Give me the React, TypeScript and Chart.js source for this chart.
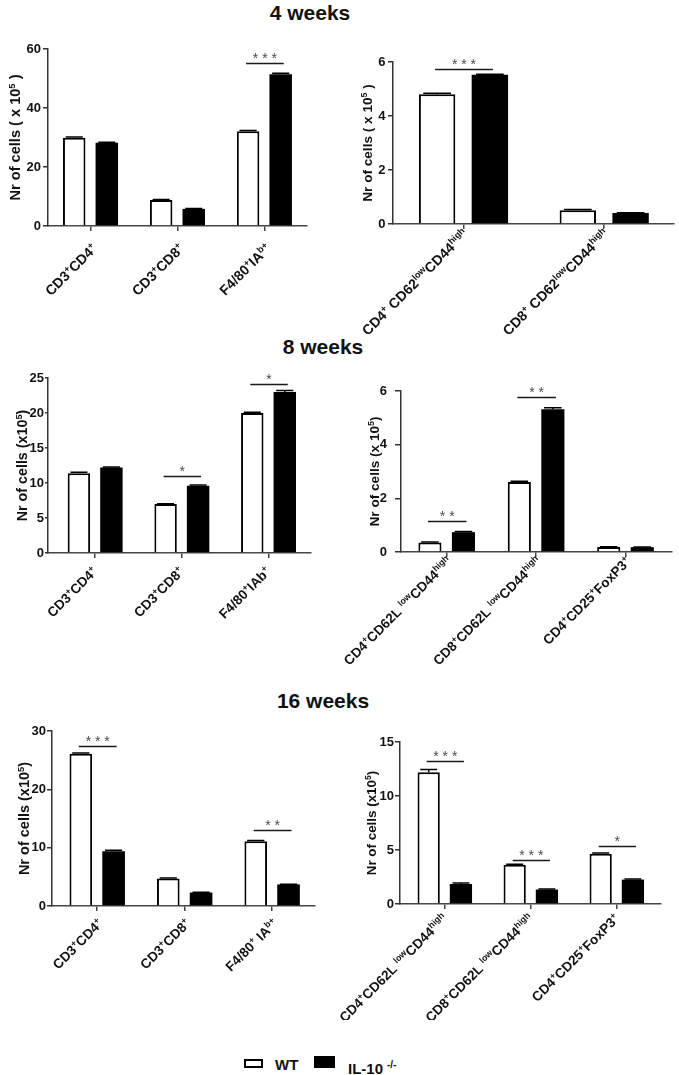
import React, { useEffect, useRef } from "react";
import { Chart, registerables } from "chart.js";
Chart.register(...registerables);

const FONT = '"Liberation Sans", Arial, Helvetica, sans-serif';
Chart.defaults.font.family = FONT;

// ---------- 4 weeks (left) ----------
const cats4A = ["CD3^{+}CD4^{+}", "CD3^{+}CD8^{+}", "F4/80^{+}IA^{b+}"];
const wt4A = [29.9, 8.8, 32.1];
const ko4A = [28.2, 5.8, 51.4];
const wtErr4A = [0.3, 0.2, 0.3];
const koErr4A = [0.2, 0.1, 0.4];
const sigCat4A = [2];
const sigVal4A = [55.3];
const sigTxt4A = ["***"];
const yTicks4A = [0, 20, 40, 60];

// ---------- 4 weeks (right) ----------
const cats4B = ["CD4^{+} CD62^{low}CD44^{high}", "CD8^{+} CD62^{low}CD44^{high}"];
const wt4B = [4.81, 0.51];
const ko4B = [5.53, 0.41];
const wtErr4B = [0.03, 0.03];
const koErr4B = [0.02, 0.01];
const sigCat4B = [0];
const sigVal4B = [5.75];
const sigTxt4B = ["***"];
const yTicks4B = [0, 2, 4, 6];

// ---------- 8 weeks (left) ----------
const cats8A = ["CD3^{+}CD4^{+}", "CD3^{+}CD8^{+}", "F4/80^{+}IAb^{+}"];
const wt8A = [11.4, 7.0, 20.0];
const ko8A = [12.2, 9.6, 23.0];
const wtErr8A = [0.15, 0.05, 0.1];
const koErr8A = [0.1, 0.1, 0.2];
const sigCat8A = [1, 2];
const sigVal8A = [11.05, 24.2];
const sigTxt8A = ["*", "*"];
const yTicks8A = [0, 5, 10, 15, 20, 25];

// ---------- 8 weeks (right) ----------
const cats8B = ["CD4^{+}CD62L ^{low}CD44^{high}", "CD8^{+}CD62L ^{low}CD44^{high}", "CD4^{+}CD25^{+}FoxP3^{+}"];
const wt8B = [0.35, 2.61, 0.19];
const ko8B = [0.74, 5.32, 0.18];
const wtErr8B = [0.02, 0.03, 0.01];
const koErr8B = [0.02, 0.06, 0.01];
const sigCat8B = [0, 1];
const sigVal8B = [1.15, 5.77];
const sigTxt8B = ["**", "**"];
const yTicks8B = [0, 2, 4, 6];

// ---------- 16 weeks (left) ----------
const cats16A = ["CD3^{+}CD4^{+}", "CD3^{+}CD8^{+}", "F4/80^{+} IA^{b+}"];
const wt16A = [26.1, 4.7, 11.1];
const ko16A = [9.4, 2.3, 3.7];
const wtErr16A = [0.15, 0.1, 0.15];
const koErr16A = [0.15, 0.05, 0.05];
const sigCat16A = [0, 2];
const sigVal16A = [27.4, 13.0];
const sigTxt16A = ["***", "**"];
const yTicks16A = [0, 10, 20, 30];

// ---------- 16 weeks (right) ----------
const cats16B = ["CD4^{+}CD62L ^{low}CD44^{high}", "CD8^{+}CD62L ^{low}CD44^{high}", "CD4^{+}CD25^{+}FoxP3^{+}"];
const wt16B = [12.2, 3.63, 4.65];
const ko16B = [1.85, 1.34, 2.26];
const wtErr16B = [0.25, 0.05, 0.08];
const koErr16B = [0.1, 0.05, 0.05];
const sigCat16B = [0, 1, 2];
const sigVal16B = [13.2, 4.1, 5.35];
const sigTxt16B = ["***", "***", "*"];
const yTicks16B = [0, 5, 10, 15];

const titles = ["4 weeks", "8 weeks", "16 weeks"];
const legendLabels = ["WT", "IL-10^{-/-}"];

type Panel = {
  cats: string[]; wt: number[]; ko: number[]; wtErr: number[]; koErr: number[];
  sigCat: number[]; sigVal: number[]; sigTxt: string[]; yTicks: number[];
  yTitle: string;
  box: { left: number; top: number; width: number; height: number };
  area: { L: number; T: number; R: number; B: number };
  xMin: number; xMax: number;
  tickFont: number; tickLen: number; tickPad: number;
  labelFont: number; titleFont: number; titleX: number;
  lblDx: number; lblDy: number;
};

const panels: Panel[] = [
  {
    cats: cats4A, wt: wt4A, ko: ko4A, wtErr: wtErr4A, koErr: koErr4A, sigCat: sigCat4A, sigVal: sigVal4A, sigTxt: sigTxt4A, yTicks: yTicks4A,
    yTitle: "Nr of cells ( x 10^{5} )",
    box: { left: 0, top: 30, width: 340, height: 300 }, area: { L: 48, T: 49, R: 307, B: 226 },
    xMin: -0.489, xMax: 2.49, tickFont: 13, tickLen: 5, tickPad: 2,
    labelFont: 14, titleFont: 14.6, titleX: 15, lblDx: 7.5, lblDy: 23.5,
  },
  {
    cats: cats4B, wt: wt4B, ko: ko4B, wtErr: wtErr4B, koErr: koErr4B, sigCat: sigCat4B, sigVal: sigVal4B, sigTxt: sigTxt4B, yTicks: yTicks4B,
    yTitle: "Nr of cells ( x 10^{5} )",
    box: { left: 300, top: 30, width: 379, height: 322 }, area: { L: 393, T: 62, R: 674, B: 224 },
    xMin: -0.501, xMax: 1.496, tickFont: 13, tickLen: 5, tickPad: 2.5,
    labelFont: 14, titleFont: 13.6, titleX: 367, lblDx: 5.5, lblDy: 11,
  },
  {
    cats: cats8A, wt: wt8A, ko: ko8A, wtErr: wtErr8A, koErr: koErr8A, sigCat: sigCat8A, sigVal: sigVal8A, sigTxt: sigTxt8A, yTicks: yTicks8A,
    yTitle: "Nr of cells (x10^{5})",
    box: { left: 0, top: 360, width: 340, height: 300 }, area: { L: 48, T: 378, R: 311, B: 553 },
    xMin: -0.544, xMax: 2.49, tickFont: 13, tickLen: 3, tickPad: 1,
    labelFont: 13.5, titleFont: 14.3, titleX: 22, lblDx: 3, lblDy: 19.5,
  },
  {
    cats: cats8B, wt: wt8B, ko: ko8B, wtErr: wtErr8B, koErr: koErr8B, sigCat: sigCat8B, sigVal: sigVal8B, sigTxt: sigTxt8B, yTicks: yTicks8B,
    yTitle: "Nr of cells (x 10^{5})",
    box: { left: 300, top: 360, width: 379, height: 310 }, area: { L: 401, T: 391, R: 672, B: 552 },
    xMin: -0.511, xMax: 2.52, tickFont: 13, tickLen: 6, tickPad: 8,
    labelFont: 13.5, titleFont: 13.6, titleX: 374, lblDx: 6, lblDy: 10.5,
  },
  {
    cats: cats16A, wt: wt16A, ko: ko16A, wtErr: wtErr16A, koErr: koErr16A, sigCat: sigCat16A, sigVal: sigVal16A, sigTxt: sigTxt16A, yTicks: yTicks16A,
    yTitle: "Nr of cells (x10^{5})",
    box: { left: 0, top: 715, width: 340, height: 300 }, area: { L: 52, T: 731, R: 315, B: 906 },
    xMin: -0.517, xMax: 2.49, tickFont: 13, tickLen: 5, tickPad: 1,
    labelFont: 13.5, titleFont: 14.5, titleX: 24, lblDx: 6.5, lblDy: 18.5,
  },
  {
    cats: cats16B, wt: wt16B, ko: ko16B, wtErr: wtErr16B, koErr: koErr16B, sigCat: sigCat16B, sigVal: sigVal16B, sigTxt: sigTxt16B, yTicks: yTicks16B,
    yTitle: "Nr of cells (x10^{5})",
    box: { left: 300, top: 715, width: 379, height: 305 }, area: { L: 400, T: 742, R: 661, B: 904 },
    xMin: -0.521, xMax: 2.514, tickFont: 13, tickLen: 5, tickPad: 1,
    labelFont: 13.5, titleFont: 13.4, titleX: 371, lblDx: 3.5, lblDy: 15.5,
  },
];

type Seg = { t: string; sup: boolean };
function parseRich(s: string): Seg[] {
  const out: Seg[] = [];
  const re = /\^\{([^}]*)\}/g;
  let last = 0;
  let m: RegExpExecArray | null;
  while ((m = re.exec(s))) {
    if (m.index > last) out.push({ t: s.slice(last, m.index), sup: false });
    out.push({ t: m[1], sup: true });
    last = m.index + m[0].length;
  }
  if (last < s.length) out.push({ t: s.slice(last), sup: false });
  return out;
}
const fontStr = (size: number) => `bold ${size}px ${FONT}`;
function richWidth(ctx: CanvasRenderingContext2D, segs: Seg[], size: number) {
  let w = 0;
  for (const sg of segs) {
    ctx.font = fontStr(sg.sup ? size * 0.65 : size);
    w += ctx.measureText(sg.t).width;
  }
  return w;
}
function drawRich(ctx: CanvasRenderingContext2D, segs: Seg[], x: number, y: number, size: number) {
  for (const sg of segs) {
    const fs = sg.sup ? size * 0.65 : size;
    ctx.font = fontStr(fs);
    ctx.fillText(sg.t, x, sg.sup ? y - size * 0.38 : y);
    x += ctx.measureText(sg.t).width;
  }
}

function drawExtras(chart: any, p: Panel) {
  const ctx: CanvasRenderingContext2D = chart.ctx;
  const xs = chart.scales.x;
  const ys = chart.scales.y;
  const B = chart.chartArea.bottom;
  ctx.save();
  // error bars
  [p.wtErr, p.koErr].forEach((errs, di) => {
    const meta = chart.getDatasetMeta(di);
    const vals = di === 0 ? p.wt : p.ko;
    meta.data.forEach((el: any, i: number) => {
      const top = ys.getPixelForValue(vals[i] + errs[i]);
      const yb = ys.getPixelForValue(vals[i]);
      const half = el.width * 0.38;
      ctx.strokeStyle = "#000";
      ctx.lineWidth = 1.5;
      ctx.beginPath();
      ctx.moveTo(el.x, yb);
      ctx.lineTo(el.x, top);
      ctx.moveTo(el.x - half, top);
      ctx.lineTo(el.x + half, top);
      ctx.stroke();
    });
  });
  // significance markers
  p.sigCat.forEach((ci, k) => {
    const a = chart.getDatasetMeta(0).data[ci];
    const b = chart.getDatasetMeta(1).data[ci];
    const y = Math.round(ys.getPixelForValue(p.sigVal[k])) + 0.5;
    const x0 = a.x - 2;
    const x1 = b.x + 3;
    ctx.strokeStyle = "#1a1a1a";
    ctx.lineWidth = 1.6;
    ctx.beginPath();
    ctx.moveTo(x0, y);
    ctx.lineTo(x1, y);
    ctx.stroke();
    ctx.fillStyle = "#4a4a4a";
    ctx.font = `14px ${FONT}`;
    ctx.textAlign = "center";
    ctx.textBaseline = "alphabetic";
    ctx.fillText(p.sigTxt[k].split("").join(" "), (x0 + x1) / 2, y - 1);
  });
  // category labels
  ctx.fillStyle = "#111";
  ctx.textAlign = "left";
  ctx.textBaseline = "alphabetic";
  p.cats.forEach((c, i) => {
    const segs = parseRich(c);
    const w = richWidth(ctx, segs, p.labelFont);
    const px = xs.getPixelForValue(i);
    ctx.save();
    ctx.translate(px + p.lblDx, B + p.lblDy);
    ctx.rotate(-Math.PI / 4);
    drawRich(ctx, segs, -w, 0, p.labelFont);
    ctx.restore();
  });
  // y-axis title
  const segs = parseRich(p.yTitle);
  const w = richWidth(ctx, segs, p.titleFont);
  ctx.save();
  ctx.translate(p.titleX - p.box.left, (chart.chartArea.top + B) / 2);
  ctx.rotate(-Math.PI / 2);
  drawRich(ctx, segs, -w / 2, p.titleFont * 0.36, p.titleFont);
  ctx.restore();
  ctx.restore();
}

function PanelChart({ p }: { p: Panel }) {
  const ref = useRef<HTMLCanvasElement>(null);
  useEffect(() => {
    const canvas = ref.current!;
    const n = p.cats.length;
    const chart = new Chart(canvas, {
      type: "bar",
      data: {
        datasets: [
          {
            label: "WT",
            data: p.wt.map((v, i) => ({ x: i, y: v })),
            backgroundColor: "#ffffff",
            borderColor: "#000000",
            borderWidth: 2,
          },
          {
            label: "IL-10-/-",
            data: p.ko.map((v, i) => ({ x: i, y: v })),
            backgroundColor: "#000000",
            borderColor: "#000000",
            borderWidth: 0,
          },
        ],
      } as any,
      options: {
        responsive: false,
        animation: false,
        devicePixelRatio: 1,
        categoryPercentage: 0.75,
        barPercentage: 0.69,
        layout: {
          padding: {
            left: 0,
            top: p.area.T - p.box.top,
            right: p.box.left + p.box.width - p.area.R,
            bottom: 0,
          },
        },
        plugins: { legend: { display: false }, tooltip: { enabled: false }, title: { display: false } },
        scales: {
          x: {
            type: "linear",
            min: p.xMin,
            max: p.xMax,
            bounds: "data",
            offset: false,
            ticks: { display: false, stepSize: 1, includeBounds: false },
            afterBuildTicks: (s: any) => {
              s.ticks = Array.from({ length: n }, (_, i) => ({ value: i }));
            },
            grid: { offset: false, drawOnChartArea: false, drawTicks: true, tickLength: 5, color: "#444", lineWidth: 1.5 },
            border: { display: true, color: "#444", width: 1.5 },
            afterFit: (s: any) => {
              s.height = p.box.top + p.box.height - p.area.B;
            },
          },
          y: {
            min: 0,
            max: p.yTicks[p.yTicks.length - 1],
            afterBuildTicks: (s: any) => {
              s.ticks = p.yTicks.map((v) => ({ value: v }));
            },
            ticks: { color: "#111", padding: p.tickPad, font: { family: FONT, weight: "bold", size: p.tickFont } },
            grid: { drawOnChartArea: false, drawTicks: true, tickLength: p.tickLen, color: "#333", lineWidth: 1.5 },
            border: { display: true, color: "#333", width: 1.5 },
            afterFit: (s: any) => {
              s.width = p.area.L - p.box.left;
            },
          },
        },
      } as any,
      plugins: [{ id: "extras", afterDraw: (c: any) => drawExtras(c, p) }],
    });
    return () => chart.destroy();
  }, []);
  return (
    <canvas
      ref={ref}
      width={p.box.width}
      height={p.box.height}
      style={{ position: "absolute", left: p.box.left, top: p.box.top, width: p.box.width, height: p.box.height }}
    />
  );
}

function RichSpan({ s }: { s: string }) {
  return (
    <>
      {parseRich(s).map((sg, i) =>
        sg.sup ? (
          <span key={i} style={{ fontSize: 10, verticalAlign: "6px", marginLeft: 4 }}>{sg.t}</span>
        ) : (
          <span key={i}>{sg.t}</span>
        )
      )}
    </>
  );
}

const titleTops = [1.5, 335.5, 690];
const titleCenters = [310, 323, 323];

export default function App() {
  return (
    <div style={{ position: "absolute", left: 0, top: 0, width: 679, height: 1075, background: "#fff", overflow: "hidden", fontFamily: FONT }}>
      {titles.map((t, i) => (
        <div
          key={t}
          style={{
            position: "absolute", left: titleCenters[i] - 100, top: titleTops[i], width: 200, textAlign: "center",
            font: `bold 21px/21px ${FONT}`, color: "#111",
          }}
        >
          {t}
        </div>
      ))}
      {panels.map((p, i) => (
        <PanelChart key={i} p={p} />
      ))}
      <div style={{ position: "absolute", left: 244, top: 1059, width: 19, height: 9, border: "2px solid #000", boxSizing: "border-box", background: "#fff" }} />
      <div style={{ position: "absolute", left: 275, top: 1057.3, font: `bold 15px/15px ${FONT}`, color: "#111", whiteSpace: "nowrap" }}>
        <RichSpan s={legendLabels[0]} />
      </div>
      <div style={{ position: "absolute", left: 314, top: 1056, width: 21, height: 12, background: "#000" }} />
      <div style={{ position: "absolute", left: 348, top: 1057.3, font: `bold 15px/15px ${FONT}`, color: "#111", whiteSpace: "nowrap" }}>
        <RichSpan s={legendLabels[1]} />
      </div>
    </div>
  );
}
